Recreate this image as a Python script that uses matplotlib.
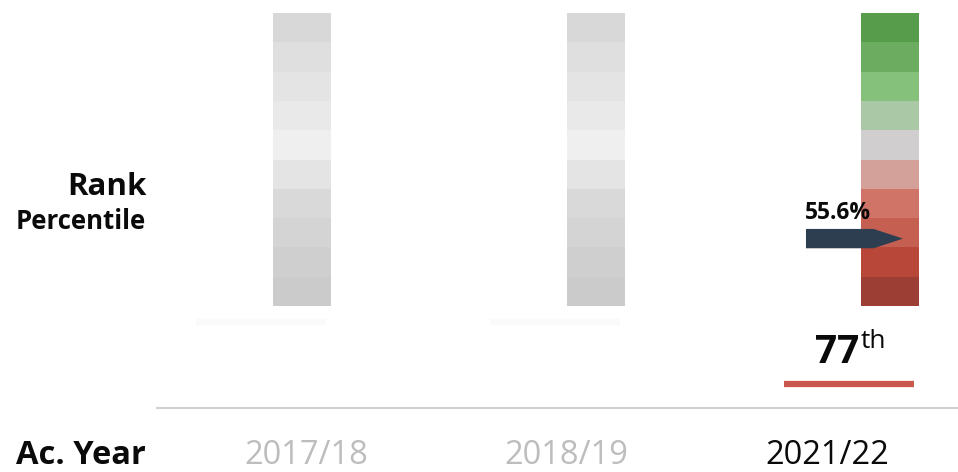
import matplotlib
matplotlib.use("Agg")
import matplotlib.pyplot as plt
from matplotlib.patches import FancyArrow

plt.rcParams['font.family'] = ['Open Sans', 'DejaVu Sans']

years = ["2017/18", "2018/19", "2021/22"]
year_colors = ["#bdbdbd", "#bdbdbd", "#0a0a0a"]
ranks = [None, None, 77]
rank_suffix = ["", "", "th"]
rank_line_colors = ["#fafafa", "#fafafa", "#c9574b"]
percentiles = [None, None, 55.6]
arrow_levels = [None, None, 2.3]   # level in segment units (0 = bottom of bar)

# segment colours listed from top to bottom
segment_colors = [
    ["#d8d8d8", "#dfdfdf", "#e4e4e4", "#e9e9e9", "#efefef",
     "#e4e4e4", "#d9d9d9", "#d4d4d4", "#cfcfcf", "#cbcbcb"],
    ["#d8d8d8", "#dfdfdf", "#e4e4e4", "#e9e9e9", "#efefef",
     "#e4e4e4", "#d9d9d9", "#d4d4d4", "#cfcfcf", "#cbcbcb"],
    ["#579c4a", "#6bac60", "#85c17a", "#aac8a6", "#d0cecf",
     "#d3a09a", "#d17468", "#c45f52", "#b8473a", "#9c3e33"],
]

fig = plt.figure(figsize=(9.58, 4.72), dpi=100)
ax = fig.add_axes([0, 0, 1, 1])
ax.set_xlim(-1.027, 2.231)
ax.set_ylim(-5.666, 10.444)
ax.axis("off")

bar_w = 0.197
n_seg = 10
label_step = 0.886   # year labels are spaced more tightly than the bars
for i, cols in enumerate(segment_colors):
    for k, c in enumerate(cols):
        bottom = n_seg - 1 - k
        ax.bar(i, 1, width=bar_w, bottom=bottom, color=c, edgecolor="none", align="center")
    # rank underline
    ax.plot([i - 0.36, i + 0.08], [-0.55 if ranks[i] is None else -2.65] * 2,
            color=rank_line_colors[i], lw=4.5, solid_capstyle="butt")
    if ranks[i] is not None:
        ax.text(i - 0.105, -1.95, str(ranks[i]), fontsize=28, fontweight="bold",
                ha="right", va="baseline", color="#0a0a0a")
        ax.text(i - 0.1, -1.44, rank_suffix[i], fontsize=19, ha="left",
                va="baseline", color="#0a0a0a")
    if percentiles[i] is not None:
        y = arrow_levels[i]
        x0 = i - 0.286
        ax.add_patch(FancyArrow(x0, y, 0.33, 0, width=0.66, head_width=0.66,
                                head_length=0.1, length_includes_head=True,
                                color="#2c3e50", lw=0))
        ax.text(x0 - 0.003, y + 0.48, "%.1f%%" % percentiles[i], fontsize=16.5,
                fontweight="bold", ha="left", va="bottom", color="#0a0a0a")
    ax.text(0.014 + i * label_step, -5.39, years[i], fontsize=23.5, ha="center",
            va="baseline", color=year_colors[i])

# baseline rule
ax.plot([-0.493, 2.231], [-3.48, -3.48], color="#d0d0d6", lw=1.5)

ax.text(-0.53, 3.78, "Rank", fontsize=22.5, fontweight="bold", ha="right",
        va="baseline", color="#0a0a0a")
ax.text(-0.53, 2.63, "Percentile", fontsize=18.5, fontweight="bold", ha="right",
        va="baseline", color="#0a0a0a")
ax.text(-0.53, -5.39, "Ac. Year", fontsize=23.5, fontweight="bold", ha="right",
        va="baseline", color="#0a0a0a")

fig.savefig("out.png", dpi=100)
